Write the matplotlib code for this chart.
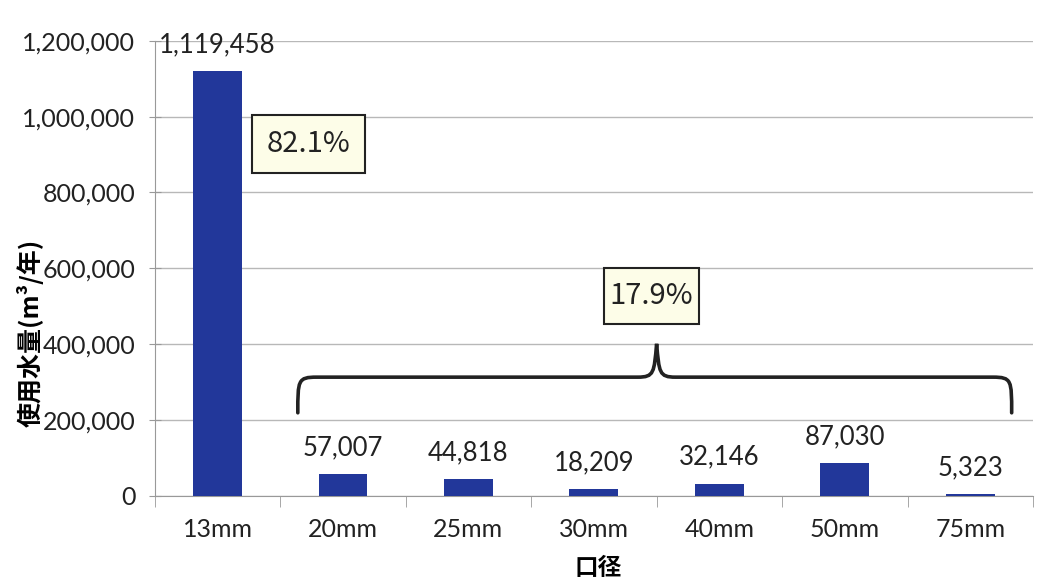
import matplotlib
matplotlib.use("Agg")
import matplotlib.pyplot as plt
from matplotlib.patches import Rectangle, PathPatch
from matplotlib.path import Path
from matplotlib.ticker import FuncFormatter, MultipleLocator, FixedLocator

plt.rcParams['font.family'] = ['Lato', 'Noto Sans CJK JP', 'DejaVu Sans']

# Annual water usage by meter diameter
categories = ["13mm", "20mm", "25mm", "30mm", "40mm", "50mm", "75mm"]
usage = [1119458, 57007, 44818, 18209, 32146, 87030, 5323]
share_large = "82.1%"
share_small = "17.9%"
y_label = "使用水量(m³/年)"
x_label = "口径"

bar_color = "#22379a"
grid_color = "#b8b8b8"
text_color = "#222222"

fig = plt.figure(figsize=(10.53, 5.82), dpi=100)
ax = fig.add_axes([0.147, 0.148, 0.834, 0.782])

x = list(range(len(categories)))
ax.bar(x, usage, width=0.39, color=bar_color, zorder=3)

ax.set_xlim(-0.5, len(categories) - 0.5)
ax.set_ylim(0, 1200000)
ax.yaxis.set_major_locator(MultipleLocator(200000))
ax.yaxis.set_major_formatter(FuncFormatter(lambda v, p: f"{int(v):,}"))
ax.grid(axis='y', color=grid_color, linewidth=1.0, zorder=0)

# category labels centered, tick marks at category boundaries
ax.set_xticks(x)
ax.set_xticklabels(categories)
ax.xaxis.set_minor_locator(FixedLocator([i - 0.5 for i in range(len(categories) + 1)]))
ax.tick_params(axis='x', which='major', length=0, pad=16, labelsize=18, colors=text_color)
ax.tick_params(axis='x', which='minor', length=8, color='#999999')
ax.tick_params(axis='y', which='major', length=8, direction='inout', color='#999999',
               labelsize=18, labelcolor=text_color, pad=10)

for side in ("top", "right"):
    ax.spines[side].set_visible(False)
ax.spines["left"].set_color("#999999")
ax.spines["bottom"].set_color("#999999")

# value labels above each bar
for xi, v in zip(x, usage):
    ax.annotate(f"{v:,}", (xi, v), xytext=(0, 10), textcoords="offset points",
                ha="center", va="bottom", fontsize=18.5, color=text_color)

cjk = ['Noto Sans CJK JP', 'DejaVu Sans']
ax.set_ylabel(y_label, fontsize=18, fontweight='bold', family=cjk, va='center')
ax.yaxis.set_label_coords(-0.142, 0.358)
ax.set_xlabel(x_label, fontsize=17, fontweight='bold', family=cjk, va='center')
ax.xaxis.set_label_coords(0.505, -0.158)

# share boxes
box_fill = "#fdfde8"
for (bx, by, bw, bh), txt in [((0.1105, 0.710, 0.1287, 0.1275), share_large),
                              ((0.511, 0.378, 0.109, 0.123), share_small)]:
    ax.add_patch(Rectangle((bx, by), bw, bh, transform=ax.transAxes,
                           facecolor=box_fill, edgecolor=text_color, linewidth=1.5, zorder=5))
    ax.text(bx + bw / 2, by + bh / 2, txt, transform=ax.transAxes, ha="center", va="center",
            fontsize=21, color=text_color, zorder=6, family=cjk)

# curly brace grouping the smaller diameters (data coordinates)
xl, xr, xm = 0.64, 6.33, 3.5
yb, yh, yt = 219000, 313000, 401000
r = 0.15
c = 40000
verts = [
    (xl, yb), (xl, yh - c * 0.2), (xl, yh), (xl + r, yh),
    (xm - r, yh), (xm - 0.02, yh), (xm - 0.02, yh + c * 0.3), (xm, yt),
    (xm + 0.02, yh + c * 0.3), (xm + 0.02, yh), (xm + r, yh),
    (xr - r, yh), (xr, yh), (xr, yh - c * 0.2), (xr, yb),
]
codes = [Path.MOVETO, Path.CURVE4, Path.CURVE4, Path.CURVE4,
         Path.LINETO, Path.CURVE4, Path.CURVE4, Path.CURVE4,
         Path.CURVE4, Path.CURVE4, Path.CURVE4,
         Path.LINETO, Path.CURVE4, Path.CURVE4, Path.CURVE4]
ax.add_patch(PathPatch(Path(verts, codes), facecolor='none', edgecolor=text_color,
                       linewidth=2.6, zorder=4, capstyle='round'))

fig.savefig("out.png", dpi=100, facecolor="white")
